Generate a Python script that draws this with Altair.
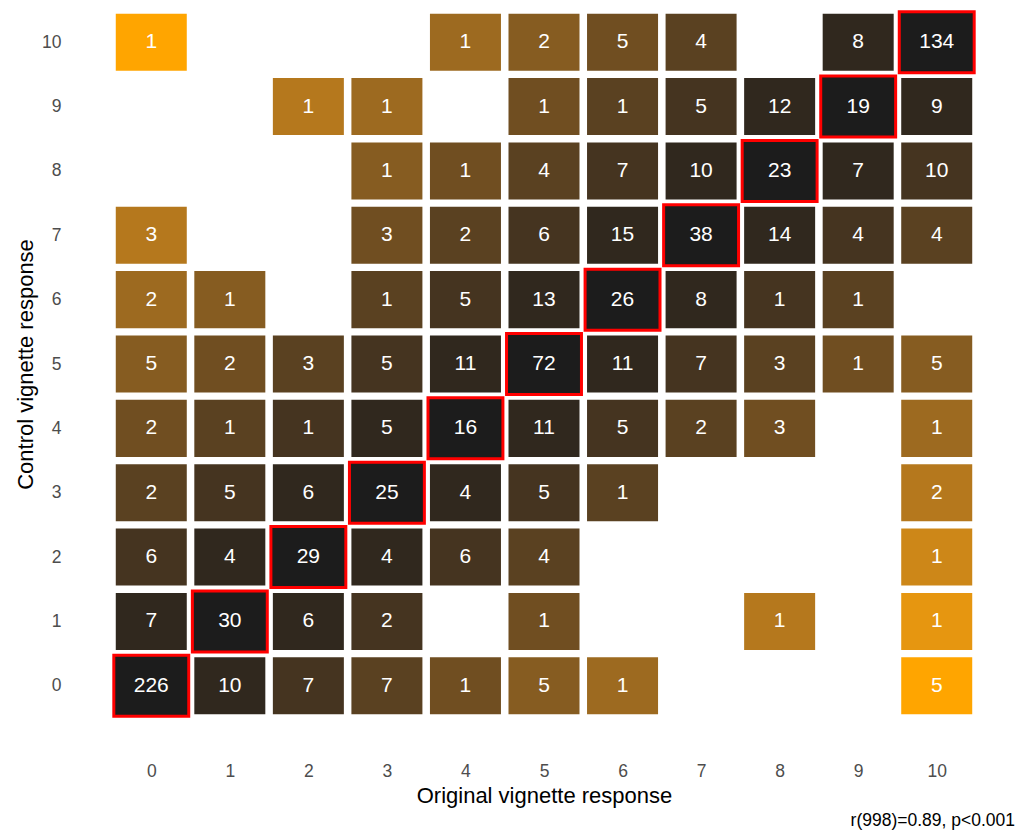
import altair as alt
import pandas as pd

# Original vignette response (x), control vignette response (y), counts
orig = [0, 4, 5, 6, 7, 9, 10,
        2, 3, 5, 6, 7, 8, 9, 10,
        3, 4, 5, 6, 7, 8, 9, 10,
        0, 3, 4, 5, 6, 7, 8, 9, 10,
        0, 1, 3, 4, 5, 6, 7, 8, 9,
        0, 1, 2, 3, 4, 5, 6, 7, 8, 9, 10,
        0, 1, 2, 3, 4, 5, 6, 7, 8, 10,
        0, 1, 2, 3, 4, 5, 6, 10,
        0, 1, 2, 3, 4, 5, 10,
        0, 1, 2, 3, 5, 8, 10,
        0, 1, 2, 3, 4, 5, 6, 10]
ctrl = [10] * 7 + [9] * 8 + [8] * 8 + [7] * 9 + [6] * 9 + [5] * 11 + [4] * 10 + [3] * 8 + [2] * 7 + [1] * 7 + [0] * 8
count = [1, 1, 2, 5, 4, 8, 134,
         1, 1, 1, 1, 5, 12, 19, 9,
         1, 1, 4, 7, 10, 23, 7, 10,
         3, 3, 2, 6, 15, 38, 14, 4, 4,
         2, 1, 1, 5, 13, 26, 8, 1, 1,
         5, 2, 3, 5, 11, 72, 11, 7, 3, 1, 5,
         2, 1, 1, 5, 16, 11, 5, 2, 3, 1,
         2, 5, 6, 25, 4, 5, 1, 2,
         6, 4, 29, 4, 6, 4, 1,
         7, 30, 6, 2, 1, 1, 1,
         226, 10, 7, 7, 1, 5, 1, 5]
ticks = list(range(11))
annotation = "r(998)=0.89, p<0.001"

df = pd.DataFrame({"orig": orig, "ctrl": ctrl, "n": count})

FONT = "Liberation Sans"

xscale = alt.Scale(domain=[-0.5, 10.5], nice=False, zero=False)
yscale = alt.Scale(domain=[-0.5, 10.5], nice=False, zero=False)
cscale = alt.Scale(domain=[0, 10], range=["#1C1C1C", "#FFA500"], interpolate="lab")

base = alt.Chart(df).transform_calculate(
    diff="abs(datum.orig - datum.ctrl)",
    diag="datum.orig == datum.ctrl ? 1 : 0",
)

xaxis = alt.Axis(values=ticks, format="d", title="Original vignette response",
                 labelPadding=44, titleY=77, titleBaseline="middle")
yaxis = alt.Axis(values=ticks, format="d", title="Control vignette response",
                 labelPadding=51, titleX=-87, titleBaseline="middle")

off = base.transform_filter("datum.diag == 0").transform_calculate(
    x1="datum.orig - 0.452", x2="datum.orig + 0.452",
    y1="datum.ctrl - 0.443", y2="datum.ctrl + 0.443",
).mark_rect().encode(
    x=alt.X("x1:Q", scale=xscale, axis=xaxis),
    x2="x2:Q",
    y=alt.Y("y1:Q", scale=yscale, axis=yaxis),
    y2="y2:Q",
    color=alt.Color("diff:Q", scale=cscale, legend=None),
)

diag = base.transform_filter("datum.diag == 1").transform_calculate(
    x1="datum.orig - 0.477", x2="datum.orig + 0.477",
    y1="datum.ctrl - 0.474", y2="datum.ctrl + 0.474",
).mark_rect(stroke="#FF0000", strokeWidth=3).encode(
    x=alt.X("x1:Q", scale=xscale),
    x2="x2:Q",
    y=alt.Y("y1:Q", scale=yscale),
    y2="y2:Q",
    color=alt.Color("diff:Q", scale=cscale, legend=None),
)

labels = base.mark_text(color="white", fontSize=21, font=FONT).encode(
    x=alt.X("orig:Q", scale=xscale),
    y=alt.Y("ctrl:Q", scale=yscale),
    text=alt.Text("n:Q"),
)

note = alt.Chart(pd.DataFrame({"t": [annotation]})).mark_text(
    align="right", baseline="middle", fontSize=17.5, font=FONT, color="black"
).encode(text="t:N", x=alt.value(903), y=alt.value(811))

chart = alt.layer(off, diag, labels, note).properties(
    width=864, height=708,
    padding={"left": 112, "top": 10, "right": 43, "bottom": 116},
    autosize="none",
).configure_view(stroke=None).configure_axis(
    domain=False, ticks=False, grid=False,
    labelColor="#4D4D4D", labelFontSize=17.5, labelFont=FONT,
    titleFont=FONT, titleFontSize=22, titleFontWeight="normal", titleColor="black",
)

chart.save("out.html", embed_options={"renderer": "svg", "actions": False})
